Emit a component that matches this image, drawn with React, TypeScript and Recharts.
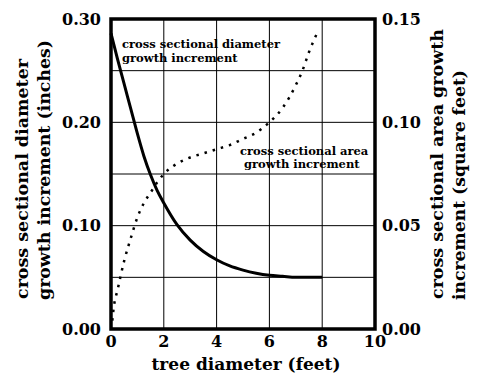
import React from 'react';
import { LineChart, Line, XAxis, YAxis, CartesianGrid, ReferenceArea } from 'recharts';

// diameter growth increment (inches), left axis
const diamX = [0, 0.25, 0.5, 0.75, 1, 1.25, 1.5, 1.75, 2, 2.5, 3, 3.5, 4, 4.5, 5, 5.5, 6, 6.5, 7, 7.5, 8];
const diamY = [0.286, 0.261, 0.237, 0.213, 0.189, 0.167, 0.149, 0.134, 0.122, 0.101, 0.086, 0.075, 0.067, 0.061, 0.057, 0.054, 0.052, 0.051, 0.05, 0.05, 0.05];

// area growth increment (square feet), right axis
const areaX = [0.05, 0.1, 0.25, 0.5, 0.75, 1, 1.25, 1.5, 1.75, 2, 2.5, 3, 3.5, 4, 4.5, 5, 5.5, 6, 6.5, 7, 7.25, 7.5, 7.8];
const areaY = [0.004, 0.01, 0.019, 0.033, 0.044, 0.054, 0.061, 0.066, 0.071, 0.075, 0.08, 0.083, 0.085, 0.087, 0.089, 0.092, 0.095, 0.1, 0.107, 0.118, 0.125, 0.134, 0.143];

const xTicks = [0, 2, 4, 6, 8, 10];
const leftTicks = [0, 0.05, 0.1, 0.15, 0.2, 0.25, 0.3];
const rightTicks = [0, 0.05, 0.1, 0.15];

const diamData = diamX.map((x, i) => ({ x, y: diamY[i] }));
const areaData = areaX.map((x, i) => ({ x, y: areaY[i] }));

const FONT = '"DejaVu Serif", serif';
const tickStyle = { fontFamily: FONT, fontWeight: 700, fontSize: 16, fill: '#000' };

export default function App() {
  return (
    <div style={{ position: 'absolute', left: 0, top: 0, width: 477, height: 385, background: '#fff' }}>
      <LineChart width={477} height={385} margin={{ top: 19, right: 0, bottom: 0, left: 0 }}>
        <CartesianGrid yAxisId="left" stroke="#000" strokeWidth={1} />
        <XAxis
          dataKey="x"
          type="number"
          domain={[0, 10]}
          ticks={xTicks}
          height={56}
          axisLine={false}
          tickLine={false}
          tickSize={0}
          tickMargin={7}
          tick={tickStyle}
        />
        <YAxis
          yAxisId="left"
          type="number"
          domain={[0, 0.3]}
          ticks={leftTicks}
          width={111}
          axisLine={false}
          tickLine={false}
          tickSize={0}
          tickMargin={10}
          tick={tickStyle}
          tickFormatter={(v: number) => (Math.round(v * 100) % 10 === 0 ? v.toFixed(2) : '')}
        />
        <YAxis
          yAxisId="right"
          orientation="right"
          type="number"
          domain={[0, 0.15]}
          ticks={rightTicks}
          width={102}
          axisLine={false}
          tickLine={false}
          tickSize={0}
          tickMargin={7}
          tick={tickStyle}
          tickFormatter={(v: number) => v.toFixed(2)}
        />
        <Line
          yAxisId="left"
          data={diamData}
          dataKey="y"
          type="monotone"
          stroke="#000"
          strokeWidth={3}
          dot={false}
          isAnimationActive={false}
        />
        <Line
          yAxisId="right"
          data={areaData}
          dataKey="y"
          type="monotone"
          stroke="#000"
          strokeWidth={2.5}
          strokeDasharray="2.5 6"
          dot={false}
          isAnimationActive={false}
        />
        <ReferenceArea
          yAxisId="left"
          x1={0}
          x2={10}
          y1={0}
          y2={0.3}
          fill="none"
          stroke="#000"
          strokeWidth={3.5}
          ifOverflow="visible"
        />
      </LineChart>
      <svg
        width={477}
        height={385}
        style={{ position: 'absolute', left: 0, top: 0, pointerEvents: 'none' }}
        fontFamily={FONT}
        fontWeight={700}
        fill="#000"
      >
        <text fontSize={17} x={246} y={370} textAnchor="middle">tree diameter (feet)</text>
        <text fontSize={16} transform="translate(28,299) rotate(-90)" textLength={240} lengthAdjust="spacingAndGlyphs">cross sectional diameter</text>
        <text fontSize={16} transform="translate(50,300) rotate(-90)" textLength={260} lengthAdjust="spacingAndGlyphs">growth increment (inches)</text>
        <text fontSize={16} transform="translate(443,299) rotate(-90)" textLength={270} lengthAdjust="spacingAndGlyphs">cross sectional area growth</text>
        <text fontSize={16} transform="translate(465,300) rotate(-90)" textLength={230} lengthAdjust="spacingAndGlyphs">increment (square feet)</text>
        <text fontSize={11.5} x={122} y={48}>cross sectional diameter</text>
        <text fontSize={11.5} x={122} y={62}>growth increment</text>
        <text fontSize={11.5} x={240} y={155}>cross sectional area</text>
        <text fontSize={11.5} x={244} y={168}>growth increment</text>
      </svg>
    </div>
  );
}
